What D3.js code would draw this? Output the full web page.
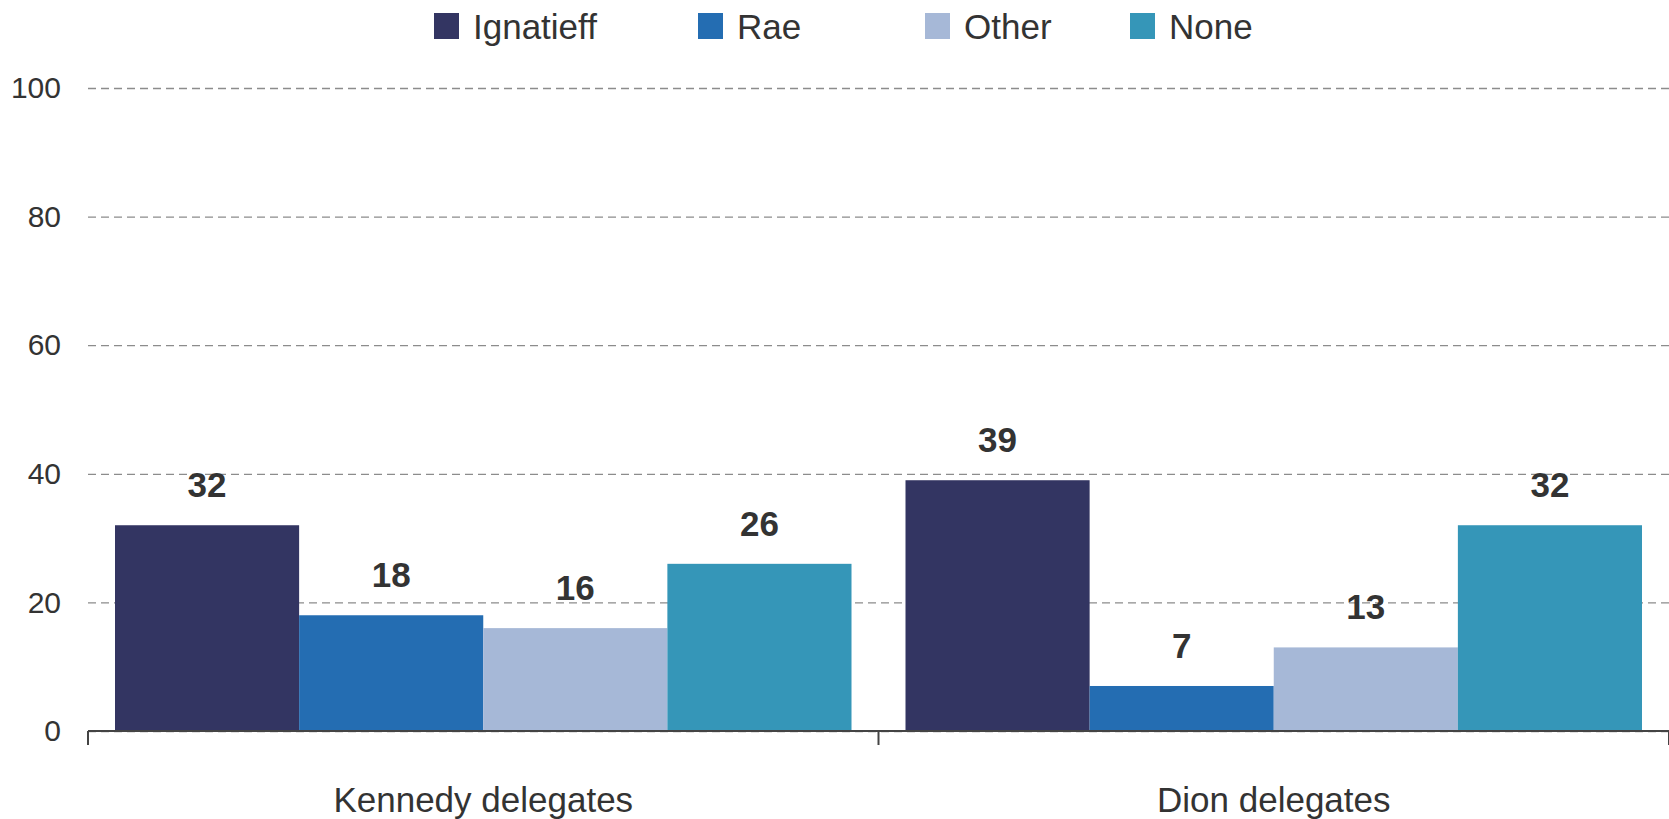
<!DOCTYPE html>
<html>
<head>
<meta charset="utf-8">
<script src="https://cdn.jsdelivr.net/npm/d3@7"></script>
<style>
  body { margin: 0; background: #fff; }
  text { font-family: "Liberation Sans", Arial, sans-serif; fill: #333333; }
</style>
</head>
<body>
<div id="chart"></div>
<script>
const categories = ["Kennedy delegates", "Dion delegates"];
const seriesNames = ["Ignatieff", "Rae", "Other", "None"];
const seriesColors = ["#333562", "#246db2", "#a6b8d7", "#3596b8"];
const ignatieff = [32, 39];
const rae = [18, 7];
const other = [16, 13];
const none = [26, 32];
const yTicks = [0, 20, 40, 60, 80, 100];

const seriesValues = [ignatieff, rae, other, none];

const chart = {};
chart.margin = { top: 88, right: 0, bottom: 88, left: 88 };
chart.width = 1669 - chart.margin.left - chart.margin.right;
chart.height = 819 - chart.margin.top - chart.margin.bottom;

const rows = categories.map((c, i) => ({
    category: c,
    values: seriesNames.map((s, j) => ({ series: s, value: seriesValues[j][i] }))
}));

const svg = d3.select("#chart")
    .append("svg")
    .attr("width", 1669)
    .attr("height", 819);

const g = svg.append("g")
    .attr("transform", "translate(" + chart.margin.left + "," + chart.margin.top + ")");

const x0 = d3.scaleBand()
    .domain(categories)
    .range([0, chart.width]);
const x1 = d3.scaleBand()
    .domain(seriesNames)
    .range([27, x0.bandwidth() - 27]);
const y = d3.scaleLinear()
    .domain([0, 100])
    .range([chart.height, 0]);
const color = d3.scaleOrdinal().domain(seriesNames).range(seriesColors);

// gridlines + y labels
const yAxis = g.append("g")
    .call(d3.axisLeft(y).tickValues(yTicks).tickSize(-chart.width).tickPadding(27));
yAxis.select(".domain").remove();
yAxis.selectAll(".tick line")
    .attr("stroke", "#8c8c8c")
    .attr("stroke-width", 1.3)
    .attr("stroke-dasharray", "8,5");
yAxis.selectAll(".tick text")
    .style("font-size", "30px")
    .style("font-family", "Liberation Sans, Arial, sans-serif")
    .attr("fill", "#333");

// bars
const groups = g.selectAll(".group")
    .data(rows)
    .enter()
    .append("g")
    .attr("transform", d => `translate(${x0(d.category)},0)`);

groups.selectAll("rect")
    .data(d => d.values)
    .enter()
    .append("rect")
    .attr("x", d => x1(d.series))
    .attr("y", d => y(d.value))
    .attr("width", x1.bandwidth())
    .attr("height", d => chart.height - y(d.value))
    .attr("fill", d => color(d.series));

groups.selectAll(".label")
    .data(d => d.values)
    .enter()
    .append("text")
    .attr("x", d => x1(d.series) + x1.bandwidth() / 2)
    .attr("y", d => y(d.value) - 28)
    .attr("text-anchor", "middle")
    .style("font-size", "35px")
    .style("font-weight", "bold")
    .text(d => d.value);

// x axis baseline + ticks at band edges
const xAxis = g.append("g").attr("transform", `translate(0,${chart.height})`);
xAxis.append("line")
    .attr("x1", 0).attr("x2", chart.width)
    .attr("stroke", "#444").attr("stroke-width", 2);
const edges = categories.map(c => x0(c)).concat([chart.width]);
xAxis.selectAll(".xtick")
    .data(edges)
    .enter()
    .append("line")
    .attr("x1", d => d).attr("x2", d => d)
    .attr("y1", 0).attr("y2", 14)
    .attr("stroke", "#444").attr("stroke-width", 2);
xAxis.selectAll(".xlabel")
    .data(categories)
    .enter()
    .append("text")
    .attr("x", d => x0(d) + x0.bandwidth() / 2)
    .attr("y", 81)
    .attr("text-anchor", "middle")
    .style("font-size", "35px")
    .text(d => d);

// legend
const legendX = [434, 698, 925, 1130];
const legend = svg.append("g");
const items = legend.selectAll(".item")
    .data(seriesNames)
    .enter()
    .append("g")
    .attr("transform", (d, i) => `translate(${legendX[i]},13)`);
items.append("rect")
    .attr("width", 25).attr("height", 26)
    .attr("fill", d => color(d));
items.append("text")
    .attr("x", 39).attr("y", 26)
    .style("font-size", "35px")
    .text(d => d);
</script>
</body>
</html>
